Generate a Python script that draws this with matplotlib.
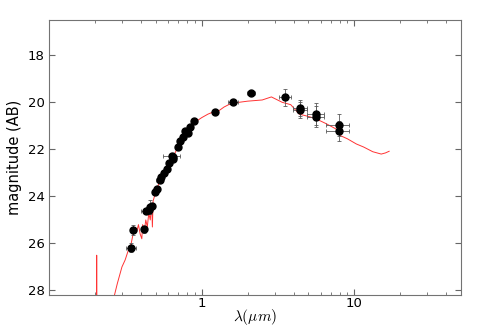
import matplotlib
matplotlib.use('Agg')
import matplotlib.pyplot as plt
from matplotlib.ticker import LogLocator, FixedLocator, NullFormatter

plt.rcParams['mathtext.fontset'] = 'cm'

# observed photometry
wl = [0.345, 0.357, 0.417, 0.432, 0.453, 0.460, 0.474, 0.491, 0.513, 0.529,
      0.543, 0.565, 0.589, 0.610, 0.638, 0.651, 0.645, 0.695, 0.720, 0.750,
      0.781, 0.809, 0.842, 0.886, 1.23, 1.61, 2.11, 3.52, 4.43, 4.43,
      5.62, 5.62, 7.88, 7.88]
mag = [26.18, 25.43, 25.39, 24.63, 24.56, 24.45, 24.39, 23.81, 23.70, 23.29,
       23.18, 23.01, 22.83, 22.57, 22.28, 22.33, 22.40, 21.88, 21.66, 21.46,
       21.23, 21.30, 21.07, 20.81, 20.43, 19.98, 19.59, 19.78, 20.25, 20.33,
       20.50, 20.61, 20.98, 21.22]
wl_err = [0.025, 0.015, 0.01, 0.03, 0.01, 0.01, 0.01, 0.01, 0.01, 0.03,
          0.01, 0.01, 0.01, 0.01, 0.08, 0.01, 0.01, 0.01, 0.01, 0.01,
          0.01, 0.01, 0.04, 0.02, 0.05, 0.12, 0.14, 0.30, 0.45, 0.45,
          0.70, 0.70, 1.40, 1.40]
mag_err = [0.2, 0.2, 0.15, 0.1, 0.1, 0.3, 0.1, 0.1, 0.05, 0.05,
           0.05, 0.05, 0.05, 0.05, 0.1, 0.05, 0.05, 0.05, 0.05, 0.05,
           0.05, 0.05, 0.05, 0.05, 0.05, 0.05, 0.05, 0.36, 0.35, 0.35,
           0.46, 0.46, 0.47, 0.41]

# best-fit template
model_wl = [0.20, 0.2045, 0.205, 0.2055, 0.265, 0.268, 0.28, 0.30, 0.315, 0.33,
            0.345, 0.355, 0.365, 0.375, 0.385, 0.395, 0.405, 0.41, 0.42, 0.43,
            0.44, 0.45, 0.46, 0.47, 0.475, 0.48, 0.49, 0.50, 0.52, 0.55,
            0.58, 0.62, 0.65, 0.70, 0.75, 0.80, 0.85, 0.90, 1.0, 1.1,
            1.2, 1.3, 1.4, 1.5, 1.75, 2.0, 2.49, 2.86, 3.37, 3.83,
            4.35, 5.0, 5.6, 6.5, 7.57, 8.0, 9.0, 10.3, 11.5, 13.2,
            15.0, 16.0, 16.9]
model_mag = [30, 30, 26.5, 30, 30, 28.2, 27.7, 27.0, 26.7, 26.3,
             26.0, 25.6, 25.4, 25.5, 25.2, 25.6, 25.8, 25.2, 25.5, 25.0,
             25.3, 24.7, 25.0, 24.3, 25.3, 24.2, 24.0, 23.8, 23.5, 23.1,
             22.9, 22.5, 22.3, 21.9, 21.5, 21.2, 21.0, 20.85, 20.65, 20.5,
             20.4, 20.35, 20.2, 20.1, 20.0, 19.95, 19.9, 19.77, 20.0, 20.1,
             20.5, 20.6, 20.7, 20.9, 21.13, 21.4, 21.55, 21.77, 21.9, 22.1,
             22.2, 22.15, 22.08]

fig = plt.figure(figsize=(4.91, 3.28), dpi=100)
ax = fig.add_axes([0.1, 0.1, 0.839, 0.839])

ax.plot(model_wl, model_mag, color='red', lw=0.7, alpha=0.8)
ax.errorbar(wl, mag, xerr=wl_err, yerr=mag_err, fmt='o', color='black',
            ecolor='0.35', elinewidth=0.6, capsize=1.5, capthick=0.6,
            markersize=5)

ax.set_xscale('log')
ax.set_xlim(0.1, 50)
ax.set_ylim(28.2, 16.5)
ax.xaxis.set_major_locator(FixedLocator([1, 10]))
ax.xaxis.set_major_formatter(plt.FuncFormatter(lambda v, p: '%d' % v))
ax.xaxis.set_minor_locator(LogLocator(subs=range(2, 10)))
ax.xaxis.set_minor_formatter(NullFormatter())
ax.set_yticks([18, 20, 22, 24, 26, 28])

ax.tick_params(which='both', direction='in', top=True, right=True,
               labelsize=9.5, color='0.4', pad=3)
ax.tick_params(axis='x', which='major', pad=1)
ax.tick_params(which='major', length=4)
ax.tick_params(which='minor', length=2)
for s in ax.spines.values():
    s.set_color('0.45')

ax.set_xlabel(r'$\lambda(\mu m)$', fontsize=11, labelpad=-2)
ax.set_ylabel('magnitude (AB)', fontsize=10.5)

fig.savefig('out.png', dpi=100)
